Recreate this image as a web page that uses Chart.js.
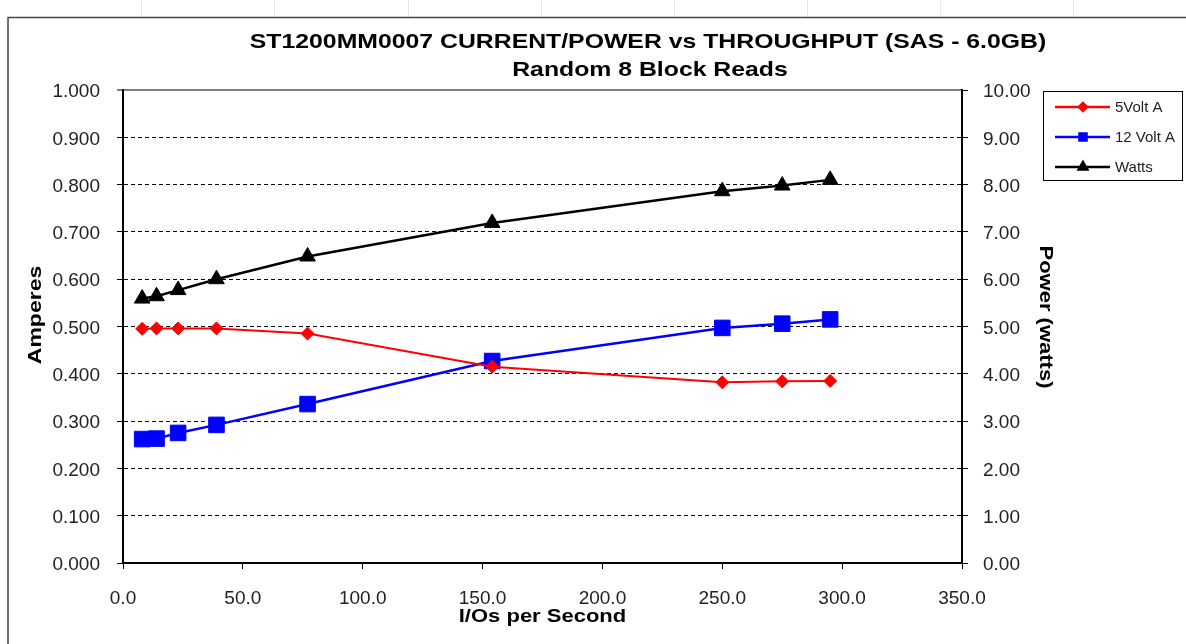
<!DOCTYPE html>
<html><head><meta charset="utf-8">
<script src="https://cdn.jsdelivr.net/npm/chart.js@4"></script>
<style>html,body{margin:0;padding:0;background:#fff}#wrap{width:1186px;height:644px;position:relative}canvas{display:block}</style>
</head><body><div id="wrap"><canvas id="c" width="1186" height="644"></canvas></div>
<script>
// ---- data ----
const iops       = [8, 14, 23, 39, 77, 154, 250, 275, 295];
const fiveVoltA  = [0.495, 0.496, 0.496, 0.496, 0.485, 0.415, 0.382, 0.384, 0.385];
const twelveVoltA= [0.262, 0.263, 0.275, 0.292, 0.336, 0.427, 0.497, 0.506, 0.515];
const watts      = [5.59, 5.64, 5.77, 6.00, 6.48, 7.19, 7.86, 7.98, 8.10];
const xTickVals    = [0, 50, 100, 150, 200, 250, 300, 350];
const ampTickVals  = [0, 0.1, 0.2, 0.3, 0.4, 0.5, 0.6, 0.7, 0.8, 0.9, 1.0];
const wattTickVals = [0, 1, 2, 3, 4, 5, 6, 7, 8, 9, 10];
const seriesNames  = ['5Volt A', '12 Volt A', 'Watts'];
const titleText    = 'ST1200MM0007 CURRENT/POWER vs THROUGHPUT (SAS - 6.0GB)';
const subtitleText = 'Random 8 Block Reads';
const xTitle = 'I/Os per Second', yTitle = 'Amperes', y1Title = 'Power (watts)';

const FONT = "'Liberation Sans', Arial, sans-serif";
const pts = (ys) => iops.map((x, i) => ({x, y: ys[i]}));

function drawLabel(c, text, x, y, font, rot, sy, baseline) {
  c.save();
  c.translate(x, y);
  if (rot) c.rotate(rot);
  c.scale(1, sy);
  c.font = font; c.textAlign = 'center'; c.textBaseline = baseline; c.fillStyle = '#000';
  c.fillText(text, 0, 0);
  c.restore();
}

const decor = {
  id: 'decor',
  beforeDraw(chart) {
    const c = chart.ctx;
    c.save();
    c.strokeStyle = '#e6e6e6'; c.lineWidth = 1;
    [141, 274, 408, 541, 674, 807, 940, 1073].forEach(x => { c.beginPath(); c.moveTo(x + .5, 0); c.lineTo(x + .5, 17); c.stroke(); });
    c.strokeStyle = '#444'; c.lineWidth = 1.5;
    c.beginPath(); c.moveTo(8, 644); c.lineTo(8, 17.5); c.lineTo(1186, 17.5); c.stroke();
    c.restore();
  },
  afterDraw(chart) {
    const c = chart.ctx, a = chart.chartArea;
    drawLabel(c, titleText, 648, 48, 'bold 24.8px ' + FONT, 0, 0.85, 'alphabetic');
    drawLabel(c, subtitleText, 650, 76, 'bold 24.8px ' + FONT, 0, 0.85, 'alphabetic');
    drawLabel(c, xTitle, (a.left + a.right) / 2, 622, 'bold 22px ' + FONT, 0, 0.8, 'alphabetic');
    drawLabel(c, yTitle, 36, 315, 'bold 23px ' + FONT, -Math.PI / 2, 0.82, 'middle');
    drawLabel(c, y1Title, 1045, 317, 'bold 22px ' + FONT, Math.PI / 2, 0.82, 'middle');
    // legend
    c.save();
    c.strokeStyle = '#000'; c.lineWidth = 1;
    c.strokeRect(1043.5, 91.5, 139, 89);
    const rows = [107, 137, 167];
    chart.data.datasets.forEach((ds, i) => {
      const y = rows[i];
      c.strokeStyle = ds.borderColor; c.lineWidth = 2.5;
      c.beginPath(); c.moveTo(1055, y); c.lineTo(1110, y); c.stroke();
      Chart.helpers.drawPoint(c, {pointStyle: ds.pointStyle, radius: [4, 5, 5][i], borderWidth: 1, rotation: 0}, 1083, y);
      c.fillStyle = ds.backgroundColor; c.fill();
      c.fillStyle = '#222'; c.textAlign = 'left'; c.textBaseline = 'middle'; c.font = '15px ' + FONT;
      c.fillText(ds.label, 1115, y + 1);
    });
    c.restore();
  }
};

new Chart(document.getElementById('c'), {
  type: 'line',
  data: {
    datasets: [
      {label: seriesNames[0], data: pts(fiveVoltA), yAxisID: 'y', borderColor: '#ff0000', backgroundColor: '#ff0000', borderWidth: 2, pointStyle: 'rectRot', pointRadius: 6.5, pointBorderWidth: 1, tension: 0},
      {label: seriesNames[1], data: pts(twelveVoltA), yAxisID: 'y', borderColor: '#0000ff', backgroundColor: '#0000ff', borderWidth: 2.5, pointStyle: 'rect', pointRadius: 11, pointBorderWidth: 1, tension: 0},
      {label: seriesNames[2], data: pts(watts), yAxisID: 'y1', borderColor: '#000000', backgroundColor: '#000000', borderWidth: 2.5, pointStyle: 'triangle', pointRadius: 9, pointBorderWidth: 1, tension: 0}
    ]
  },
  options: {
    responsive: false, animation: false, devicePixelRatio: 1,
    layout: {padding: {top: 90, left: 0, right: 0, bottom: 0}},
    plugins: {legend: {display: false}, title: {display: false}, tooltip: {enabled: false}},
    scales: {
      x: {
        type: 'linear', position: 'bottom', min: 0, max: 350,
        afterBuildTicks: s => { s.ticks = xTickVals.map(v => ({value: v})); },
        afterFit: s => { s.height = 81; },
        ticks: {callback: v => Number(v).toFixed(1), font: {size: 19, family: FONT}, color: '#222', padding: 18, maxRotation: 0, autoSkip: false},
        grid: {drawOnChartArea: false, drawTicks: true, tickLength: 6, tickColor: '#000', tickWidth: 1},
        border: {color: '#000', width: 2}
      },
      y: {
        type: 'linear', position: 'left', min: 0, max: 1,
        afterBuildTicks: s => { s.ticks = ampTickVals.map(v => ({value: v})); },
        afterFit: s => { s.width = 123; },
        ticks: {callback: v => Number(v).toFixed(3), font: {size: 19, family: FONT}, color: '#222', padding: 17, autoSkip: false, labelOffset: 2},
        grid: {
          drawOnChartArea: true, drawTicks: true, tickLength: 6, tickColor: '#000', tickWidth: 1, tickBorderDash: [],
          color: ctx => (ctx.tick && ctx.tick.value >= 0.999) ? '#808080' : '#000',
          lineWidth: ctx => (ctx.tick && ctx.tick.value >= 0.999) ? 2 : 1
        },
        border: {color: '#000', width: 2, dash: ctx => (ctx.tick && ctx.tick.value > 0.001 && ctx.tick.value < 0.999) ? [4, 3] : []}
      },
      y1: {
        type: 'linear', position: 'right', min: 0, max: 10,
        afterBuildTicks: s => { s.ticks = wattTickVals.map(v => ({value: v})); },
        afterFit: s => { s.width = 224; },
        ticks: {callback: v => Number(v).toFixed(2), font: {size: 19, family: FONT}, color: '#222', padding: 15, autoSkip: false, labelOffset: 2},
        grid: {drawOnChartArea: false, drawTicks: true, tickLength: 6, tickColor: '#000', tickWidth: 1},
        border: {color: '#000', width: 2}
      }
    }
  },
  plugins: [decor]
});
</script></body></html>
